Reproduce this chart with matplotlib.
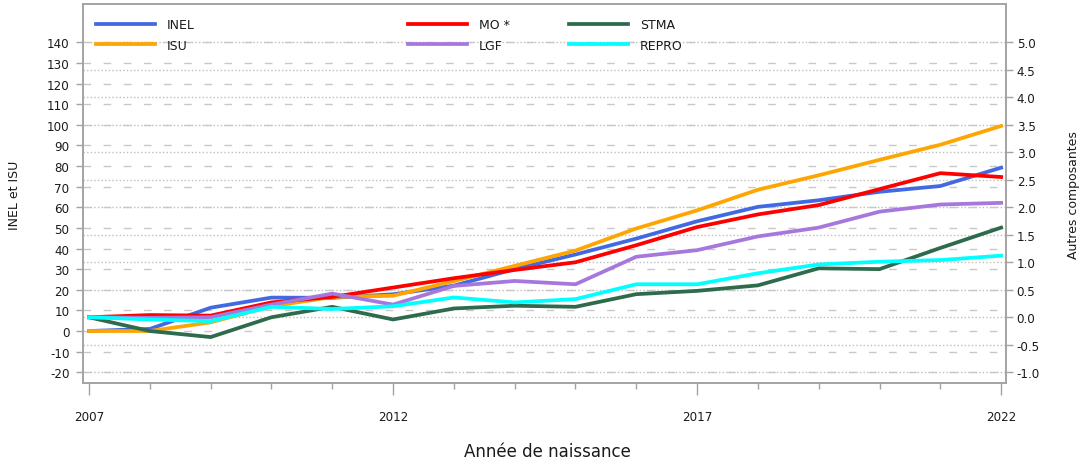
import matplotlib
matplotlib.use("Agg")
import matplotlib.pyplot as plt
from matplotlib.lines import Line2D
from matplotlib.legend import Legend
from matplotlib.ticker import FixedLocator, FormatStrFormatter

# ---------------- data ----------------
years = list(range(2007, 2023))
inel = [0, 1.0, 11.3, 16.2, 16.1, 17.8, 22.0, 30.0, 37.1, 44.8, 53.2, 60.2, 63.4, 67.5, 70.3, 79.2]
isu = [0, 0, 4.2, 12.0, 16.5, 17.1, 24.2, 31.6, 39.0, 49.7, 58.5, 68.5, 75.5, 83.0, 90.3, 99.4]
mo = [0, 0.04, 0.03, 0.27, 0.37, 0.54, 0.71, 0.86, 1.00, 1.31, 1.64, 1.87, 2.04, 2.33, 2.62, 2.55]
lgf = [0, -0.01, 0.0, 0.23, 0.43, 0.23, 0.57, 0.66, 0.60, 1.10, 1.22, 1.47, 1.63, 1.92, 2.05, 2.08]
stma = [0, -0.25, -0.36, 0.0, 0.19, -0.04, 0.16, 0.21, 0.19, 0.42, 0.48, 0.58, 0.89, 0.875, 1.26, 1.63]
repro = [0, -0.04, -0.07, 0.19, 0.15, 0.20, 0.36, 0.27, 0.33, 0.60, 0.60, 0.80, 0.96, 1.01, 1.04, 1.12]

left_ticks = list(range(-20, 141, 10))
right_ticks = [-1.0 + 0.5 * i for i in range(13)]
x_major = [2007, 2012, 2017, 2022]

left_label = "INEL et ISU"
right_label = "Autres composantes"
x_label = "Année de naissance"

# ---------------- figure ----------------
plt.rcParams["font.family"] = ["DejaVu Sans"]
plt.rcParams["axes.unicode_minus"] = False

W, H = 1080, 464
fig = plt.figure(figsize=(W / 100, H / 100), dpi=100)

L, R, T, B = 83.3, 1006.0, 5.3, 384.0
ax = fig.add_axes([L / W, 1 - B / H, (R - L) / W, (B - T) / H])
ax2 = ax.twinx()

grid_col = "#C8C8C8"
# left grid (dashed)
ax.yaxis.set_major_locator(FixedLocator(left_ticks))
ax.grid(axis="y", color=grid_col, lw=1.0, ls=(0, (5.5, 9)), zorder=0)
ax.set_axisbelow(True)
# right grid (dotted) drawn in the lower axes so it stays under the data
for v in right_ticks:
    ax.add_line(Line2D([0, 1], [v, v], transform=ax2.get_yaxis_transform(),
                       color="#BDBDBD", lw=1.0, ls=(0, (1, 1.6)), zorder=0.5))

lw = 2.7
l_inel, = ax.plot(years, inel, color="#4169E1", lw=lw, label="INEL", zorder=3)
l_isu, = ax.plot(years, isu, color="#FFA500", lw=lw, label="ISU", zorder=3)
l_mo, = ax2.plot(years, mo, color="#FF0000", lw=lw, label="MO *")
l_lgf, = ax2.plot(years, lgf, color="#A678DE", lw=lw, label="LGF")
l_stma, = ax2.plot(years, stma, color="#2E6B4C", lw=lw, label="STMA")
l_repro, = ax2.plot(years, repro, color="#00FFFF", lw=lw, label="REPRO")

ax.set_xlim(2006.906, 2022.08)
ax.set_ylim(-25.2, 158.4)
ax2.set_ylim(-1.195, 5.69)

# ticks
spine_col = "#A3A3A3"
for a in (ax, ax2):
    for s in a.spines.values():
        s.set_color(spine_col)
        s.set_linewidth(1.2)

txt_col = "#1a1a1a"
ax.set_xticks(x_major)
ax.set_xticks(years, minor=True)
ax.set_xticklabels([str(y) for y in x_major])
ax.tick_params(axis="x", which="major", length=8.5, width=1.0, color=spine_col,
               pad=11, labelsize=8.6, labelcolor=txt_col)
ax.tick_params(axis="x", which="minor", length=4.2, width=1.0, color=spine_col)
ax.tick_params(axis="y", length=5, width=1.0, color=spine_col, pad=5,
               labelsize=8.6, labelcolor=txt_col)

ax2.yaxis.set_major_locator(FixedLocator(right_ticks))
ax2.yaxis.set_major_formatter(FormatStrFormatter("%.1f"))
ax2.tick_params(axis="y", length=5, width=1.0, color=spine_col, pad=2.7,
                labelsize=8.6, labelcolor=txt_col)

# axis labels
fig.text(15 / W, 1 - 195 / H, left_label, rotation=90, ha="center", va="center",
         fontsize=9, color=txt_col)
fig.text(1073 / W, 1 - 195 / H, right_label, rotation=90, ha="center", va="center",
         fontsize=9, color=txt_col)
fig.text(547 / W, 1 - 452 / H, x_label, ha="center", va="center",
         fontsize=12, color=txt_col)

# legends (three columns)
cols = [([l_inel, l_isu], 96), ([l_mo, l_lgf], 408.3), ([l_stma, l_repro], 569.3)]
for handles, xpx in cols:
    leg = Legend(ax2, handles, [h.get_label() for h in handles], loc="upper left",
                 bbox_to_anchor=(xpx / W, 1 - 19 / H),
                 bbox_transform=fig.transFigure, frameon=False, borderpad=0,
                 borderaxespad=0, handlelength=4.7, handletextpad=0.93,
                 labelspacing=0.62, fontsize=9)
    for t in leg.get_texts():
        t.set_color(txt_col)
    ax2.add_artist(leg)

fig.savefig("out.png", dpi=100)
